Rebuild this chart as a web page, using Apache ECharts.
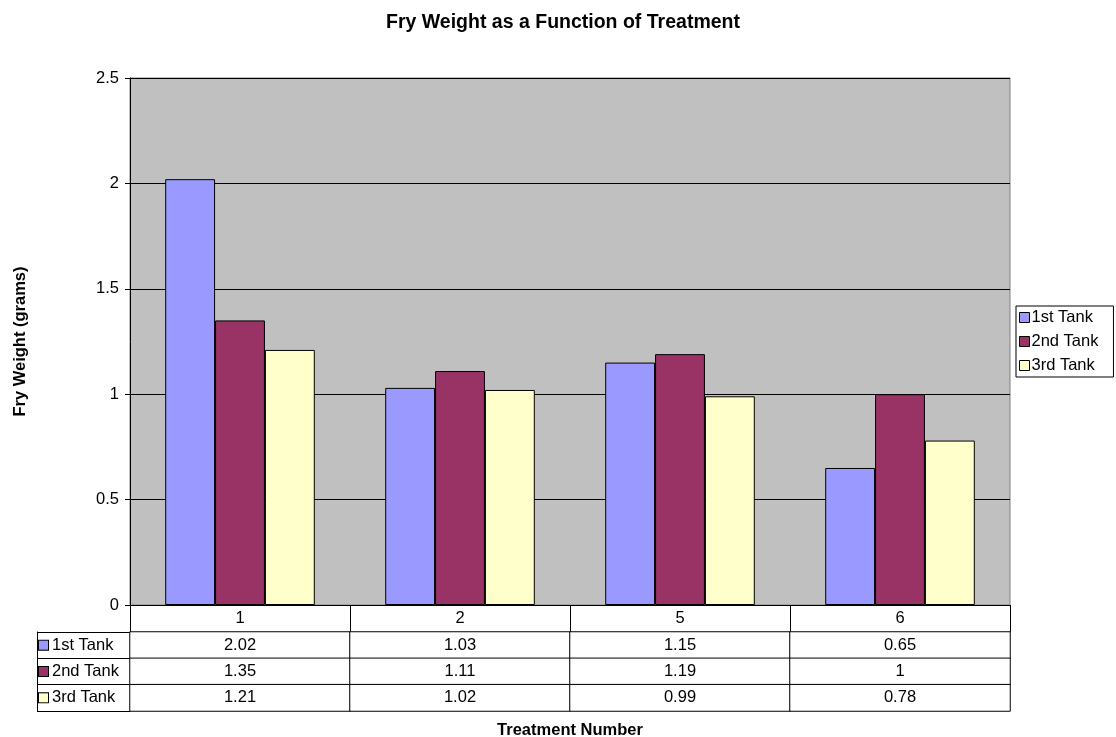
<!DOCTYPE html>
<html>
<head>
<meta charset="utf-8">
<script src="https://cdn.jsdelivr.net/npm/echarts@6/dist/echarts.min.js"></script>
<style>
html,body{margin:0;padding:0;background:#fff;}
#chart{width:1116px;height:737px;}
</style>
</head>
<body>
<div id="chart"></div>
<script>
const categories = ['1', '2', '5', '6'];
const seriesNames = ['1st Tank', '2nd Tank', '3rd Tank'];
const tank1 = [2.02, 1.03, 1.15, 0.65];
const tank2 = [1.35, 1.11, 1.19, 1];
const tank3 = [1.21, 1.02, 0.99, 0.78];
const colors = ['#9999ff', '#993366', '#ffffcc'];

const allValues = [tank1, tank2, tank3];
const FONT = 'Liberation Sans, Arial, sans-serif';
const FS = 16.5;

const chart = echarts.init(document.getElementById('chart'));

const tableData = [];
allValues.forEach((vals, r) => {
  vals.forEach((v, c) => tableData.push([c, r, v]));
});

const rich = {};
seriesNames.forEach((n, i) => {
  rich['k' + i] = {width: 9, height: 9, backgroundColor: colors[i], borderColor: '#000', borderWidth: 1};
});
rich.t = {fontSize: FS, color: '#000', fontFamily: FONT, padding: [0, 0, 0, 4]};

const option = {
  animation: false,
  backgroundColor: '#ffffff',
  textStyle: {fontFamily: FONT},
  title: {
    text: 'Fry Weight as a Function of Treatment',
    left: 558, top: 8, textAlign: 'center',
    textStyle: {fontSize: 19.5, fontWeight: 'bold', color: '#000', fontFamily: FONT}
  },
  legend: {
    orient: 'vertical',
    left: 1016, top: 306,
    data: seriesNames,
    icon: 'rect',
    itemWidth: 10, itemHeight: 10, itemGap: 7,
    padding: [3, 15, 3, 3],
    backgroundColor: '#fff',
    borderColor: '#000', borderWidth: 1,
    borderRadius: 0,
    itemStyle: {borderColor: '#000', borderWidth: 1},
    textStyle: {fontSize: FS, color: '#000', fontFamily: FONT, padding: [0, 0, 0, -3]}
  },
  grid: [
    {left: 130, right: 106, top: 78, bottom: 132, show: true, backgroundColor: '#c0c0c0', borderColor: '#808080', borderWidth: 1, containLabel: false, outerBoundsMode: 'none'},
    {left: 130, right: 106, top: 632, bottom: 26, show: false, containLabel: false, outerBoundsMode: 'none'}
  ],
  xAxis: [
    {
      type: 'category', gridIndex: 0, data: categories,
      axisLine: {show: true, lineStyle: {color: '#000'}},
      axisTick: {show: true, length: 27, lineStyle: {color: '#000'}},
      axisLabel: {fontSize: FS, color: '#000', margin: 5, fontFamily: FONT},
      name: 'Treatment Number', nameLocation: 'middle', nameGap: 117,
      nameTextStyle: {fontSize: FS, fontWeight: 'bold', color: '#000', fontFamily: FONT}
    },
    {
      type: 'category', gridIndex: 1, data: categories,
      axisLine: {show: false}, axisTick: {show: false}, axisLabel: {show: false}
    }
  ],
  yAxis: [
    {
      type: 'value', gridIndex: 0, min: 0, max: 2.5, interval: 0.5,
      axisLine: {show: true, lineStyle: {color: '#000'}},
      axisTick: {show: true, length: 5, lineStyle: {color: '#000'}},
      axisLabel: {fontSize: FS, color: '#000', margin: 11, fontFamily: FONT},
      splitLine: {show: true, lineStyle: {color: '#000', width: 1}},
      name: 'Fry Weight (grams)', nameLocation: 'middle', nameGap: 101, nameRotate: 90,
      nameTextStyle: {fontSize: FS, fontWeight: 'bold', color: '#000', fontFamily: FONT}
    },
    {
      type: 'category', gridIndex: 1, data: seriesNames, inverse: true,
      axisLine: {show: true, lineStyle: {color: '#000'}},
      axisTick: {show: true, length: 93, lineStyle: {color: '#000'}},
      axisLabel: {
        align: 'left', margin: 91,
        formatter: (v, i) => '{k' + i + '|}{t|' + v + '}',
        rich: rich
      }
    },
    {
      type: 'category', gridIndex: 1, data: seriesNames, inverse: true,
      position: 'left', offset: 93,
      axisLine: {show: true, lineStyle: {color: '#000'}},
      axisTick: {show: false}, axisLabel: {show: false}
    }
  ],
  series: [
    ...allValues.map((vals, i) => ({
      name: seriesNames[i], type: 'bar', xAxisIndex: 0, yAxisIndex: 0,
      data: vals,
      barGap: '0%', barCategoryGap: '32%',
      itemStyle: {color: colors[i], borderColor: '#000', borderWidth: 1}
    })),
    {
      name: 'table', type: 'heatmap', xAxisIndex: 1, yAxisIndex: 1,
      data: tableData,
      itemStyle: {color: '#ffffff', borderColor: '#000', borderWidth: 1},
      label: {show: true, formatter: p => String(p.value[2]), fontSize: FS, color: '#000', fontFamily: FONT},
      emphasis: {disabled: true}
    }
  ]
};
chart.setOption(option);
</script>
</body>
</html>
